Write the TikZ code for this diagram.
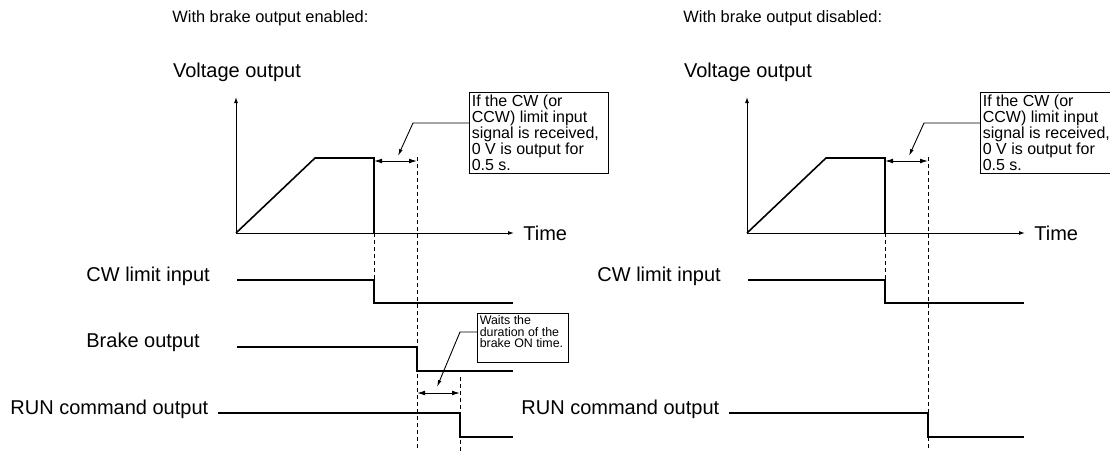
\documentclass[tikz,border=0pt]{standalone}
\usepackage{fontspec}
\setmainfont{Liberation Sans}
\usetikzlibrary{arrows.meta}
\tikzset{
  sigline/.style={line width=0.8pt},
  axisline/.style={line width=0.5pt,-{Latex[length=3pt,width=2pt]}},
  guide/.style={line width=0.45pt,dash pattern=on 2pt off 1.5pt},
  spanArrow/.style={line width=0.5pt,{Latex[length=4pt,width=2.4pt]}-{Latex[length=4pt,width=2.4pt]}},
  leader/.style={line width=0.45pt,-{Latex[length=3.5pt,width=1.8pt]}},
  notebox/.style={draw,line width=0.5pt,inner sep=0pt,anchor=north west},
  notetext/.style={anchor=north west,align=left,inner sep=1.2pt,font=\fontsize{8}{8}\selectfont},
  smalltext/.style={anchor=north west,align=left,inner sep=1.2pt,font=\fontsize{6.2}{5.8}\selectfont},
  sigLabel/.style={anchor=west,inner sep=0pt,font=\fontsize{10}{12}\selectfont},
  headLabel/.style={anchor=west,inner sep=0pt,font=\fontsize{8.2}{10}\selectfont}
}

\begin{document}
\begin{tikzpicture}[x=0.5pt,y=-0.5pt]
  \useasboundingbox (0,0) rectangle (1110,451);

  % brake output enabled
  \node[headLabel] (headL) at (172,18) {With brake output enabled:};
  \node[sigLabel,anchor=center] (voltL) at (237,72) {Voltage output};
  \coordinate (o1) at (236,233);
  \coordinate (yTip1) at (236,97);
  \coordinate (xTip1) at (514,233);
  \draw[axisline] (o1) -- (yTip1);
  \draw[axisline] (o1) -- (xTip1);
  \node[sigLabel] (timeL) at (523,233) {Time};
  \draw[sigline] (o1) -- (315,158) -- (374,158) -- (374,233);
  \draw[guide] (374,233) -- (374,280);
  \draw[guide] (417,157) -- (417,451);
  \draw[guide] (460,377) -- (460,451);
  \draw[spanArrow] (374,161) -- (417,161);
  \node[notebox,minimum width=69.5pt,minimum height=40.5pt] (noteL) at (469,92) {};
  \node[notetext] (noteLtxt) at (noteL.north west) {If the CW (or\\CCW) limit input\\signal is received,\\0 V is output for\\0.5 s.};
  \coordinate (kneeL) at (413,123);
  \coordinate (tipL) at (398,156);
  \draw[leader] (kneeL -| noteL.west) -- (kneeL) -- (tipL);

  \node[sigLabel] (cwL) at (86,276) {CW limit input};
  \draw[sigline] (237,280) -- (374,280) -- (374,303) -- (513,303);
  \node[sigLabel] (brakeL) at (86,342) {Brake output};
  \draw[sigline] (237,347) -- (417,347) -- (417,371) -- (513,371);
  \node[sigLabel] (runL) at (10,409) {RUN command output};
  \draw[sigline] (218,413) -- (460,413) -- (460,437) -- (513,437);
  \draw[spanArrow] (417,393) -- (460,393);
  \node[notebox,minimum width=45.5pt,minimum height=24.5pt] (waitBox) at (477,313) {};
  \node[smalltext] (waitTxt) at (waitBox.north west) {Waits the\\duration of the\\brake ON time.};
  \coordinate (kneeW) at (460,332);
  \coordinate (tipW) at (437,387);
  \draw[leader] (kneeW -| waitBox.west) -- (kneeW) -- (tipW);

  % brake output disabled
  \node[headLabel] (headR) at (683,18) {With brake output disabled:};
  \node[sigLabel,anchor=center] (voltR) at (748,72) {Voltage output};
  \coordinate (o2) at (747,233);
  \coordinate (yTip2) at (747,97);
  \coordinate (xTip2) at (1025,233);
  \draw[axisline] (o2) -- (yTip2);
  \draw[axisline] (o2) -- (xTip2);
  \node[sigLabel] (timeR) at (1034,233) {Time};
  \draw[sigline] (o2) -- (826,158) -- (885,158) -- (885,233);
  \draw[guide] (885,233) -- (885,280);
  \draw[guide] (928,157) -- (928,451);
  \draw[spanArrow] (885,161) -- (928,161);
  \node[notebox,minimum width=69.5pt,minimum height=40.5pt] (noteR) at (980,92) {};
  \node[notetext] (noteRtxt) at (noteR.north west) {If the CW (or\\CCW) limit input\\signal is received,\\0 V is output for\\0.5 s.};
  \coordinate (kneeR) at (924,123);
  \coordinate (tipR) at (909,156);
  \draw[leader] (kneeR -| noteR.west) -- (kneeR) -- (tipR);

  \node[sigLabel] (cwR) at (597,276) {CW limit input};
  \draw[sigline] (748,280) -- (885,280) -- (885,303) -- (1024,303);
  \node[sigLabel] (runR) at (521,409) {RUN command output};
  \draw[sigline] (729,413) -- (928,413) -- (928,437) -- (1024,437);
\end{tikzpicture}
\end{document}
